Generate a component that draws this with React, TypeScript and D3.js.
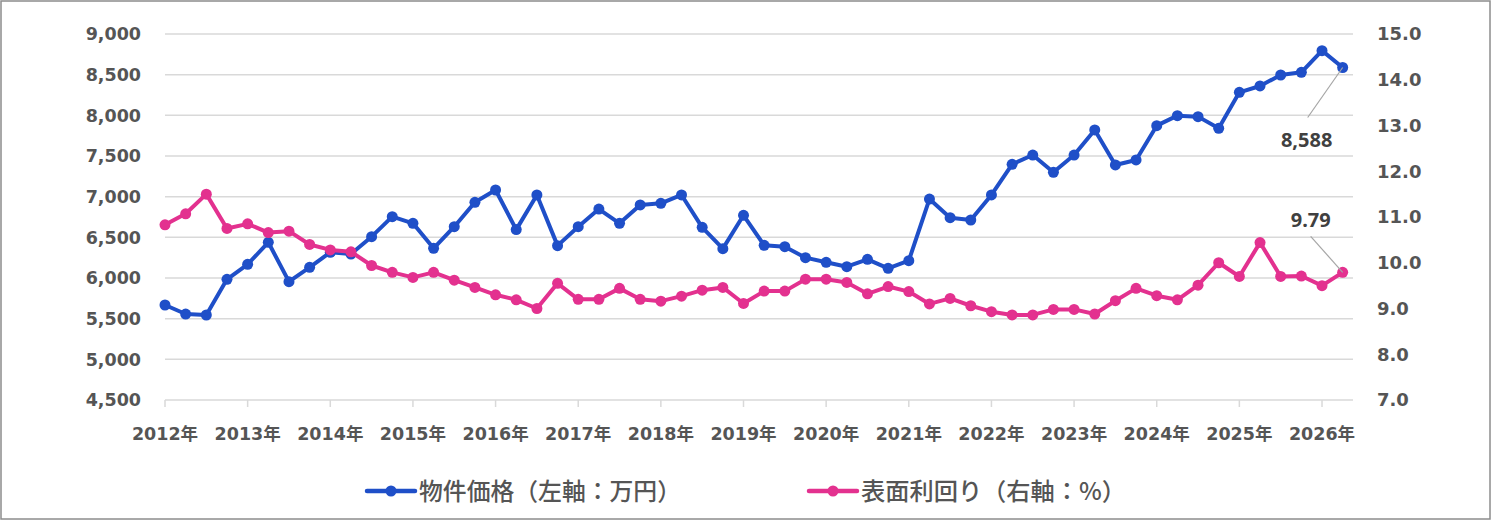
import React from 'react';
import * as d3 from 'd3';

// quarterly, 2012 Q1 .. 2026 Q2
const years = d3.range(2012, 2027).map((y) => `${y}年`);

const price = [
  5668, 5557, 5545, 5984, 6168, 6439, 5955, 6131, 6316, 6295, 6508, 6754,
  6672, 6365, 6631, 6931, 7082, 6595, 7021, 6398, 6631, 6848, 6672, 6898,
  6918, 7021, 6623, 6361, 6771, 6402, 6385, 6250, 6193, 6139, 6230, 6119,
  6213, 6971, 6742, 6713, 7021, 7398, 7512, 7300, 7512, 7820, 7390, 7451,
  7873, 7996, 7984, 7840, 8283, 8361, 8496, 8529, 8795, 8588,
];

const yieldPct = [
  10.83, 11.07, 11.5, 10.75, 10.85, 10.66, 10.69, 10.4, 10.28, 10.24, 9.94, 9.79,
  9.68, 9.79, 9.62, 9.46, 9.3, 9.19, 9.0, 9.55, 9.2, 9.2, 9.44, 9.2,
  9.16, 9.27, 9.4, 9.46, 9.11, 9.38, 9.38, 9.64, 9.64, 9.57, 9.32, 9.48,
  9.37, 9.1, 9.22, 9.06, 8.93, 8.86, 8.86, 8.98, 8.98, 8.88, 9.17, 9.44,
  9.28, 9.19, 9.51, 10.0, 9.7, 10.44, 9.7, 9.71, 9.5, 9.79,
];

const leftTicks = d3.range(4500, 9001, 500);
const rightTicks = d3.range(7, 15.01, 1);

const seriesNames = ['物件価格（左軸：万円）', '表面利回り（右軸：%）'];
const colors = ['#1f4fc8', '#e3318f'];

const W = 1492;
const H = 522;
const numFont = '"DejaVu Sans", "Noto Sans CJK JP", sans-serif';
const jpFont = '"Noto Sans CJK JP", sans-serif';
const axisColor = '#555555';

export default function App() {
  const x = d3.scaleLinear().domain([0, 57.5]).range([165, 1353]);
  const yL = d3.scaleLinear().domain([4500, 9000]).range([400, 34]);
  const yR = d3.scaleLinear().domain([7, 15]).range([400, 34]);

  const lineL = d3.line<number>().x((_, i) => x(i)).y((d) => yL(d));
  const lineR = d3.line<number>().x((_, i) => x(i)).y((d) => yR(d));
  const fmt = d3.format(',');

  const lastI = price.length - 1;
  const pLx = x(lastI), pLy = yL(price[lastI]);
  const pRx = x(lastI), pRy = yR(yieldPct[lastI]);

  // legend slots: sample line start, text width
  const legendX = [367, 809];
  const legendW = [262, 265];

  return (
    <svg width={W} height={H} style={{ position: 'absolute', left: 0, top: 0, background: '#fff' }}>
      <rect x={1} y={1} width={W - 3} height={H - 4} fill="#fff" stroke="#8c8c8c" strokeWidth={1.5} />

      {/* grid */}
      {leftTicks.map((t) => (
        <line key={t} x1={x(0)} x2={x(57.5)} y1={yL(t)} y2={yL(t)} stroke="#d9d9d9" strokeWidth={1.5} />
      ))}
      {/* x ticks */}
      {years.map((_, k) => (
        <line key={k} x1={x(4 * k)} x2={x(4 * k)} y1={400} y2={407} stroke="#d9d9d9" strokeWidth={1.5} />
      ))}

      {/* left axis */}
      {leftTicks.map((t) => (
        <text key={t} x={141} y={yL(t)} dy="0.36em" textAnchor="end" fontFamily={numFont}
          fontWeight="bold" fontSize={17.5} fill={axisColor}>{fmt(t)}</text>
      ))}
      {/* right axis */}
      {rightTicks.map((t) => (
        <text key={t} x={1377} y={yR(t)} dy="0.36em" textAnchor="start" fontFamily={numFont}
          fontWeight="bold" fontSize={18} fill={axisColor}>{t.toFixed(1)}</text>
      ))}
      {/* x labels */}
      {years.map((yr, k) => (
        <text key={yr} x={x(4 * k)} y={440} textAnchor="middle" fontFamily={numFont}
          fontWeight="bold" fontSize={17.5} fill={axisColor}>{yr}</text>
      ))}

      {/* series */}
      <path d={lineL(price) || ''} fill="none" stroke={colors[0]} strokeWidth={4} strokeLinejoin="round" />
      {price.map((v, i) => (
        <circle key={i} cx={x(i)} cy={yL(v)} r={5.5} fill={colors[0]} />
      ))}
      <path d={lineR(yieldPct) || ''} fill="none" stroke={colors[1]} strokeWidth={4} strokeLinejoin="round" />
      {yieldPct.map((v, i) => (
        <circle key={i} cx={x(i)} cy={yR(v)} r={5.5} fill={colors[1]} />
      ))}

      {/* data labels */}
      <line x1={pLx} y1={pLy} x2={pLx - 35} y2={pLy + 50} stroke="#a6a6a6" strokeWidth={1.2} />
      <text x={pLx - 36} y={pLy + 79} textAnchor="middle" fontFamily='"Noto Sans", sans-serif'
        fontWeight="bold" fontSize={20} fill="#404040">{fmt(price[lastI])}</text>
      <line x1={pRx} y1={pRy} x2={pRx - 32} y2={pRy - 36} stroke="#a6a6a6" strokeWidth={1.2} />
      <text x={pRx - 32} y={pRy - 45} textAnchor="middle" fontFamily='"Noto Sans", sans-serif'
        fontWeight="bold" fontSize={20} fill="#404040">{yieldPct[lastI].toFixed(2)}</text>

      {/* legend */}
      {seriesNames.map((name, i) => {
        const lx = legendX[i];
        return (
          <g key={name}>
            <line x1={lx} x2={lx + 48} y1={491} y2={491} stroke={colors[i]} strokeWidth={4.5} strokeLinecap="round" />
            <circle cx={lx + 24} cy={491} r={5.5} fill={colors[i]} />
            <text x={lx + 52} y={491} dy="0.36em" fontFamily={jpFont} fontSize={24} fontWeight={500} fill={axisColor}
              textLength={legendW[i]} lengthAdjust="spacingAndGlyphs">{name}</text>
          </g>
        );
      })}
    </svg>
  );
}
